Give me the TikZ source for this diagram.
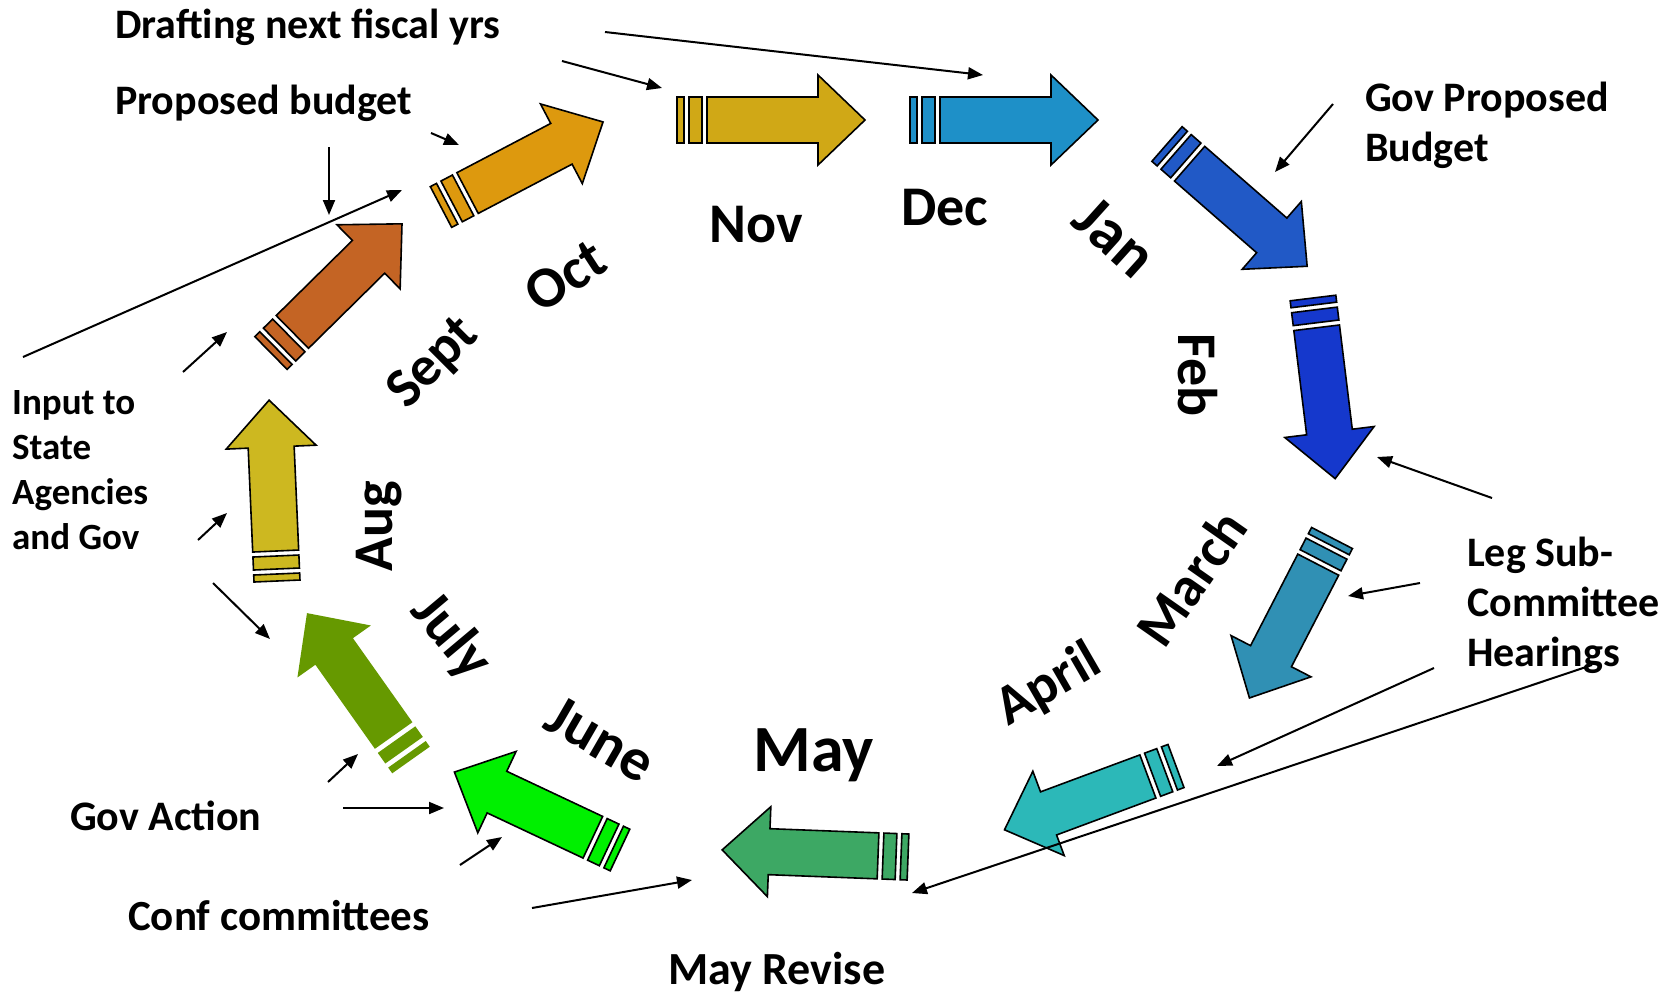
\documentclass[tikz,border=0pt]{standalone}
\usepackage{fontspec}
\setmainfont{Carlito}
\usetikzlibrary{arrows.meta}
\definecolor{cOct}{RGB}{221,153,14}
\definecolor{cNov}{RGB}{208,168,22}
\definecolor{cDec}{RGB}{30,144,200}
\definecolor{cJan}{RGB}{33,89,198}
\definecolor{cFeb}{RGB}{21,56,204}
\definecolor{cMar}{RGB}{48,144,180}
\definecolor{cApr}{RGB}{44,184,184}
\definecolor{cMay}{RGB}{61,168,100}
\definecolor{cJun}{RGB}{0,240,0}
\definecolor{cJul}{RGB}{102,153,0}
\definecolor{cAug}{RGB}{205,184,32}
\definecolor{cSep}{RGB}{196,100,36}
\tikzset{
  conn/.style={line width=2pt, -{Triangle[length=15pt,width=12pt]}},
  lbl/.style={font=\fontsize{42}{50}\selectfont\bfseries, inner sep=0pt, align=left},
  smalllbl/.style={font=\fontsize{37}{45}\selectfont\bfseries, inner sep=0pt, align=left},
  mon/.style={font=\fontsize{56}{60}\selectfont\bfseries, inner sep=0pt},
  bigmon/.style={font=\fontsize{61}{64}\selectfont\bfseries, inner sep=0pt},
  arr/.style={draw=black, line width=1.6pt, line join=miter},
  noline/.style={draw=none},
}
% tail, angle, length, colour, style
\newcommand{\monarrow}[5]{%
  \begin{scope}[shift={#1}, rotate=#2]
    \filldraw[arr, fill=#4, #5] (0,-23) rectangle (7,23);
    \filldraw[arr, fill=#4, #5] (12,-23) rectangle (25,23);
    \filldraw[arr, fill=#4, #5] (30,-23) -- ({#3-47},-23) -- ({#3-47},-45) -- (#3,0)
      -- ({#3-47},45) -- ({#3-47},23) -- (30,23) -- cycle;
  \end{scope}}
\begin{document}
\begin{tikzpicture}[x=1pt,y=-1pt]
\useasboundingbox[fill=white] (0,0) rectangle (1679,997);

% month arrows
\monarrow{(441,207)}{27.7}{183}{cOct}{}
\monarrow{(677,120)}{0}{188}{cNov}{}
\monarrow{(910,120)}{0}{188}{cDec}{}
\monarrow{(1167,144)}{-41.1}{186}{cJan}{}
\monarrow{(1313,298)}{-83}{182}{cFeb}{}
\monarrow{(1332,538)}{242.7}{180}{cMar}{}
\monarrow{(1176,766)}{200.4}{183}{cApr}{}
\monarrow{(908,857)}{177.8}{186}{cMay}{}
\monarrow{(620,850)}{154.8}{183}{cJun}{}
\monarrow{(411,760)}{125.3}{180}{cJul}{noline}
\monarrow{(277,581)}{92.5}{181}{cAug}{}
\monarrow{(271,353)}{44.6}{184}{cSep}{}

% month labels
\node[bigmon, font=\fontsize{58}{60}\selectfont\bfseries, rotate=33] (oct) at (565,276) {Oct};
\node[mon] (nov) at (756,225) {Nov};
\node[mon] (dec) at (945,208) {Dec};
\node[bigmon, font=\fontsize{63}{66}\selectfont\bfseries, rotate=-42] (jan) at (1115,237) {Jan};
\node[mon, rotate=-90] (feb) at (1198,375) {Feb};
\node[mon, rotate=55] (mar) at (1191,578) {March};
\node[mon, rotate=30] (apr) at (1049,685) {April};
\node[mon, font=\fontsize{66}{70}\selectfont\bfseries] (may) at (814,755) {May};
\node[bigmon, font=\fontsize{60}{64}\selectfont\bfseries, rotate=-30] (jun) at (601,739) {June};
\node[mon, font=\fontsize{58}{60}\selectfont\bfseries, rotate=-50] (jul) at (451,637) {July};
\node[mon, rotate=90] (aug) at (379,526) {Aug};
\node[mon, rotate=45] (sep) at (434,364) {Sept};

% side labels
\node[lbl, anchor=base west] (draft) at (115,38) {Drafting next fiscal yrs};
\node[lbl, anchor=base west] (prop) at (115,114) {Proposed budget};
\node[lbl, anchor=north west] (govprop) at (1365,82) {Gov Proposed\\Budget};
\node[lbl, anchor=north west] (leg) at (1467,537) {Leg Sub-\\Committee\\Hearings};
\node[smalllbl, anchor=north west] (input) at (12,390) {Input to\\State\\Agencies\\and Gov};
\node[lbl, anchor=base west] (govact) at (70,830) {Gov Action};
\node[lbl, font=\fontsize{43}{50}\selectfont\bfseries, anchor=base west] (conf) at (128,930) {Conf committees};
\node[lbl, font=\fontsize{46}{50}\selectfont\bfseries, anchor=base west] (mayrev) at (668,984) {May Revise};

% connector end points
\coordinate (a1s) at (605,32);   \coordinate (a1e) at (983,75);
\coordinate (a2s) at (562,61);   \coordinate (a2e) at (662,88);
\coordinate (a3s) at (431,133);  \coordinate (a3e) at (459,145);
\coordinate (a4s) at (329,147);  \coordinate (a4e) at (329,215);
\coordinate (a5s) at (23,357);   \coordinate (a5e) at (402,190);
\coordinate (a6s) at (183,372);  \coordinate (a6e) at (227,332);
\coordinate (a7s) at (198,540);  \coordinate (a7e) at (227,513);
\coordinate (a8s) at (213,583);  \coordinate (a8e) at (270,639);
\coordinate (a9s) at (328,782);  \coordinate (a9e) at (358,754);
\coordinate (a10s) at (343,808); \coordinate (a10e) at (444,808);
\coordinate (a11s) at (460,865); \coordinate (a11e) at (502,837);
\coordinate (a12s) at (532,908); \coordinate (a12e) at (692,880);
\coordinate (a13s) at (1333,104);\coordinate (a13e) at (1275,172);
\coordinate (a14s) at (1492,498);\coordinate (a14e) at (1377,457);
\coordinate (a15s) at (1420,583);\coordinate (a15e) at (1348,596);
\coordinate (a16s) at (1434,668);\coordinate (a16e) at (1217,766);
\coordinate (a17s) at (1592,665);\coordinate (a17e) at (912,893);

\foreach \i in {1,2,3,4,5,6,7,8,9,10,11,12,13,14,15,16,17}
  \draw[conn] (a\i s) -- (a\i e);
\end{tikzpicture}
\end{document}
